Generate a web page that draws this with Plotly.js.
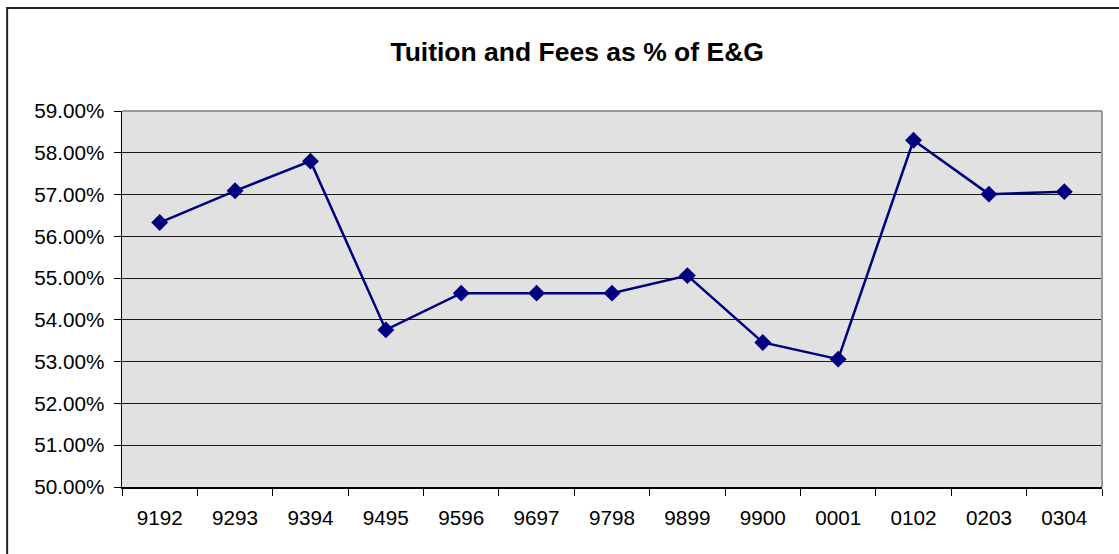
<!DOCTYPE html>
<html>
<head>
<meta charset="utf-8">
<script src="https://cdn.plot.ly/plotly-3.0.1.min.js"></script>
<style>
html,body{margin:0;padding:0;background:#fff;}
#chart{width:1119px;height:554px;}
</style>
</head>
<body>
<div id="chart"></div>
<script>
const years = ["9192","9293","9394","9495","9596","9697","9798","9899","9900","0001","0102","0203","0304"];
const tuitionPct = [56.33, 57.09, 57.80, 53.76, 54.64, 54.64, 54.64, 55.06, 53.46, 53.06, 58.30, 57.01, 57.07];
const yTicks = [50, 51, 52, 53, 54, 55, 56, 57, 58, 59];
const chartTitle = "Tuition and Fees as % of E&G";

const W = 1119, H = 554;
const L = 121.7, R = 17, T = 110.7, B = 66.7;
const pw = W - L - R, ph = H - T - B;
const px = v => (v - L) / pw;
const py = v => (H - B - v) / ph;

const trace = {
  x: years,
  y: tuitionPct,
  type: "scatter",
  mode: "lines+markers",
  line: {color: "#000080", width: 2.5},
  marker: {symbol: "diamond", size: 13, color: "#000080"},
  hoverinfo: "skip"
};

const layout = {
  width: W, height: H,
  margin: {l: L, r: R, t: T, b: B, pad: 0},
  paper_bgcolor: "#ffffff",
  plot_bgcolor: "#e1e1e1",
  showlegend: false,
  font: {family: "Liberation Sans, Arial, sans-serif", color: "#000"},
  title: {
    text: "<b>" + chartTitle + "</b>",
    font: {size: 26.5, family: "Liberation Sans, Arial, sans-serif", color: "#000"},
    x: px(577), xref: "paper", xanchor: "center",
    y: 1 - 52 / H, yref: "container", yanchor: "middle"
  },
  xaxis: {
    type: "category",
    range: [-0.5, years.length - 0.5],
    tickson: "boundaries",
    ticks: "outside", ticklen: 7, tickwidth: 1, tickcolor: "#000",
    showgrid: false,
    showline: true, linecolor: "#000", linewidth: 1.5,
    tickfont: {size: 20.7},
    ticklabelstandoff: 12,
    zeroline: false,
    fixedrange: true
  },
  yaxis: {
    range: [50, 59],
    tickvals: yTicks,
    ticktext: yTicks.map(v => v.toFixed(2) + "%"),
    ticks: "outside", ticklen: 7, tickwidth: 1, tickcolor: "#000",
    showgrid: true, gridcolor: "#1a1a1a", gridwidth: 1,
    showline: true, linecolor: "#000", linewidth: 1.5,
    tickfont: {size: 20.7},
    ticklabelstandoff: 5,
    zeroline: false,
    fixedrange: true
  },
  shapes: [
    {type: "line", xref: "paper", yref: "paper", x0: 0, x1: 1, y0: 1, y1: 1,
     line: {color: "#9a9a9a", width: 2}, layer: "above"},
    {type: "line", xref: "paper", yref: "paper", x0: 1, x1: 1, y0: 0, y1: 1,
     line: {color: "#9a9a9a", width: 2}, layer: "above"},
    {type: "rect", xref: "paper", yref: "paper",
     x0: px(6.8), x1: px(1130), y0: py(7.5), y1: py(570),
     line: {color: "#222", width: 2}, fillcolor: "rgba(0,0,0,0)", layer: "above"}
  ]
};

Plotly.newPlot("chart", [trace], layout, {staticPlot: true, displayModeBar: false});
</script>
</body>
</html>
